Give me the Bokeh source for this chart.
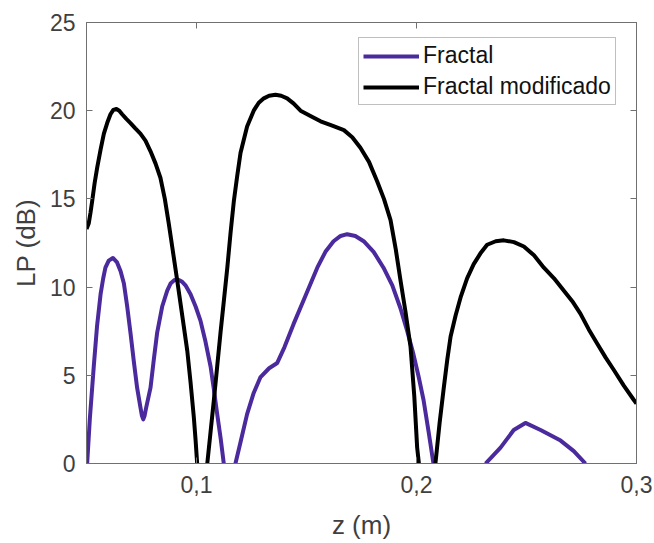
import numpy as np
from bokeh.plotting import figure
from bokeh.models import LinearAxis, FixedTicker, CustomJSTickFormatter, Range1d
from bokeh.embed import file_html
from bokeh.resources import INLINE

nan = float("nan")

# Fractal (purple)
z_fractal = [0.0503, 0.0515, 0.0533, 0.0548, 0.0564, 0.0576, 0.0586, 0.0601, 0.0620,
             0.0639, 0.0655, 0.0670, 0.0685, 0.0700, 0.0715, 0.0730, 0.0745, 0.0752,
             0.0758, 0.0764, 0.0770, 0.0791, 0.0806, 0.0821, 0.0844, 0.0867, 0.0882,
             0.0900, 0.0920, 0.0935, 0.0950, 0.0973, 0.0996, 0.1018, 0.1041, 0.1064,
             0.1079, 0.1094, 0.1110, 0.1124, 0.1150, 0.1177, 0.1200, 0.1230, 0.1260,
             0.1291, 0.1330, 0.1367, 0.1400, 0.1441, 0.1495, 0.1549, 0.1586, 0.1623,
             0.1655, 0.1685, 0.1722, 0.1760, 0.1805, 0.1850, 0.1890, 0.1927, 0.1958,
             0.1986, 0.2010, 0.2032, 0.2055, 0.2077, nan,
             0.2314, 0.2382, 0.2442, 0.2495, 0.2564, 0.2655, 0.2715, 0.2768]
lp_fractal = [0.0, 2.5, 5.5, 7.8, 9.6, 10.5, 11.1, 11.5, 11.65,
              11.4, 10.9, 10.2, 8.9, 7.4, 5.8, 4.3, 3.2, 2.7,
              2.5, 2.7, 3.1, 4.3, 5.9, 7.4, 8.9, 9.8, 10.2,
              10.4, 10.4, 10.3, 10.1, 9.6, 8.9, 8.1, 6.9, 5.5,
              4.2, 2.8, 1.4, 0.0, -2.0, 0.0, 1.2, 2.8, 4.0,
              4.9, 5.4, 5.7, 6.6, 7.9, 9.5, 11.1, 12.0, 12.6,
              12.9, 13.0, 12.9, 12.6, 12.0, 11.1, 10.1, 8.8, 7.5,
              6.2, 4.9, 3.6, 1.8, 0.0, nan,
              0.0, 0.9, 1.9, 2.3, 1.9, 1.3, 0.7, 0.0]

# Fractal modificado (black)
z_mod = [0.0500, 0.0510, 0.0518, 0.0526, 0.0537, 0.0549, 0.0564, 0.0579, 0.0594,
         0.0609, 0.0622, 0.0636, 0.0649, 0.0662, 0.0680, 0.0700, 0.0722, 0.0745,
         0.0768, 0.0791, 0.0814, 0.0836, 0.0856, 0.0874, 0.0893, 0.0912, 0.0935,
         0.0958, 0.0973, 0.0988, 0.0996, 0.1003, 0.1026, 0.1049, 0.1064, 0.1079,
         0.1094, 0.1109, 0.1125, 0.1140, 0.1155, 0.1170, 0.1185, 0.1200, 0.1230,
         0.1260, 0.1283, 0.1306, 0.1330, 0.1359, 0.1385, 0.1412, 0.1442, 0.1473,
         0.1518, 0.1564, 0.1617, 0.1670, 0.1708, 0.1745, 0.1784, 0.1821, 0.1852,
         0.1882, 0.1905, 0.1927, 0.1950, 0.1973, 0.1990, 0.2003, 0.2011, 0.2050,
         0.2086, 0.2105, 0.2124, 0.2140, 0.2155, 0.2178, 0.2200, 0.2230, 0.2260,
         0.2290, 0.2321, 0.2360, 0.2397, 0.2443, 0.2488, 0.2534, 0.2579, 0.2625,
         0.2670, 0.2708, 0.2745, 0.2783, 0.2821, 0.2860, 0.2897, 0.2943, 0.2988, 0.3000]
lp_mod = [13.3, 13.6, 14.2, 14.9, 15.9, 16.8, 17.8, 18.7, 19.3,
          19.8, 20.05, 20.1, 20.0, 19.8, 19.55, 19.3, 19.0, 18.7,
          18.3, 17.7, 17.0, 16.2, 15.0, 13.6, 12.0, 10.4, 8.4,
          6.4, 4.6, 2.6, 1.3, 0.0, -2.5, 0.0, 1.8, 3.6,
          5.5, 7.4, 9.3, 11.1, 13.1, 14.9, 16.3, 17.6, 19.1,
          20.0, 20.45, 20.7, 20.85, 20.9, 20.85, 20.7, 20.4, 20.0,
          19.7, 19.4, 19.15, 18.9, 18.5, 17.9, 17.1, 16.0, 15.0,
          13.8, 12.2, 10.4, 8.6, 6.6, 3.8, 0.9, 0.0, -3.0,
          0.0, 2.3, 4.3, 5.9, 7.2, 8.4, 9.4, 10.5, 11.3,
          11.9, 12.4, 12.6, 12.65, 12.55, 12.3, 11.8, 11.1, 10.5,
          9.8, 9.2, 8.5, 7.6, 6.8, 6.0, 5.3, 4.4, 3.6, 3.4]

x_ticks = [0.1, 0.2, 0.3]
y_ticks = [0, 5, 10, 15, 20, 25]

PURPLE = "#4B2A9E"
AXIS = "#707070"
TEXT = "#3f3f3f"
FONT = "Liberation Sans"

p = figure(width=654, height=543, x_range=Range1d(0.05, 0.3), y_range=Range1d(0, 25),
           output_backend="svg", toolbar_location=None,
           min_border_left=86, min_border_right=18, min_border_top=22, min_border_bottom=80)
p.background_fill_color = "white"
p.border_fill_color = "white"
p.outline_line_color = AXIS
p.grid.visible = False

p.line(np.array(z_fractal), np.array(lp_fractal), color=PURPLE, line_width=4,
       line_join="round", legend_label="Fractal")
p.line(np.array(z_mod), np.array(lp_mod), color="black", line_width=4,
       line_join="round", legend_label="Fractal modificado")

fmt = CustomJSTickFormatter(code="return (Math.round(tick*10)/10).toString().replace('.', ',');")
blank = CustomJSTickFormatter(code="return '';")

def style(ax, ticks, labels=True):
    ax.ticker = FixedTicker(ticks=ticks)
    ax.major_tick_in = 6
    ax.major_tick_out = 0
    ax.minor_tick_in = 0
    ax.minor_tick_out = 0
    ax.axis_line_color = AXIS
    ax.major_tick_line_color = AXIS
    ax.major_label_text_font = FONT
    ax.major_label_text_color = TEXT
    ax.axis_label_text_font = FONT
    ax.axis_label_text_font_style = "normal"
    ax.axis_label_text_color = TEXT
    ax.axis_label_text_font_size = "26px"
    ax.major_label_text_font_size = "23px"
    if not labels:
        ax.formatter = blank
        ax.major_label_standoff = 0

xa = p.xaxis[0]
style(xa, x_ticks)
xa.formatter = fmt
xa.major_label_standoff = 12
xa.axis_label = "z (m)"
xa.axis_label_standoff = 14

ya = p.yaxis[0]
style(ya, y_ticks)
ya.major_label_standoff = 11
ya.axis_label = "LP (dB)"
ya.axis_label_standoff = 6

top = LinearAxis()
style(top, x_ticks, labels=False)
p.add_layout(top, "above")
right = LinearAxis()
style(right, y_ticks, labels=False)
p.add_layout(right, "right")

lg = p.legend[0]
lg.location = (272, 358)
lg.label_text_font = FONT
lg.label_text_font_size = "23px"
lg.label_text_color = "#111111"
lg.glyph_width = 56
lg.glyph_height = 20
lg.label_standoff = 4
lg.label_height = 24
lg.spacing = 4
lg.padding = 4
lg.margin = 0
lg.border_line_color = "#808080"
lg.border_line_width = 1
lg.background_fill_alpha = 1.0

open("out.html", "w").write(file_html(p, INLINE))
